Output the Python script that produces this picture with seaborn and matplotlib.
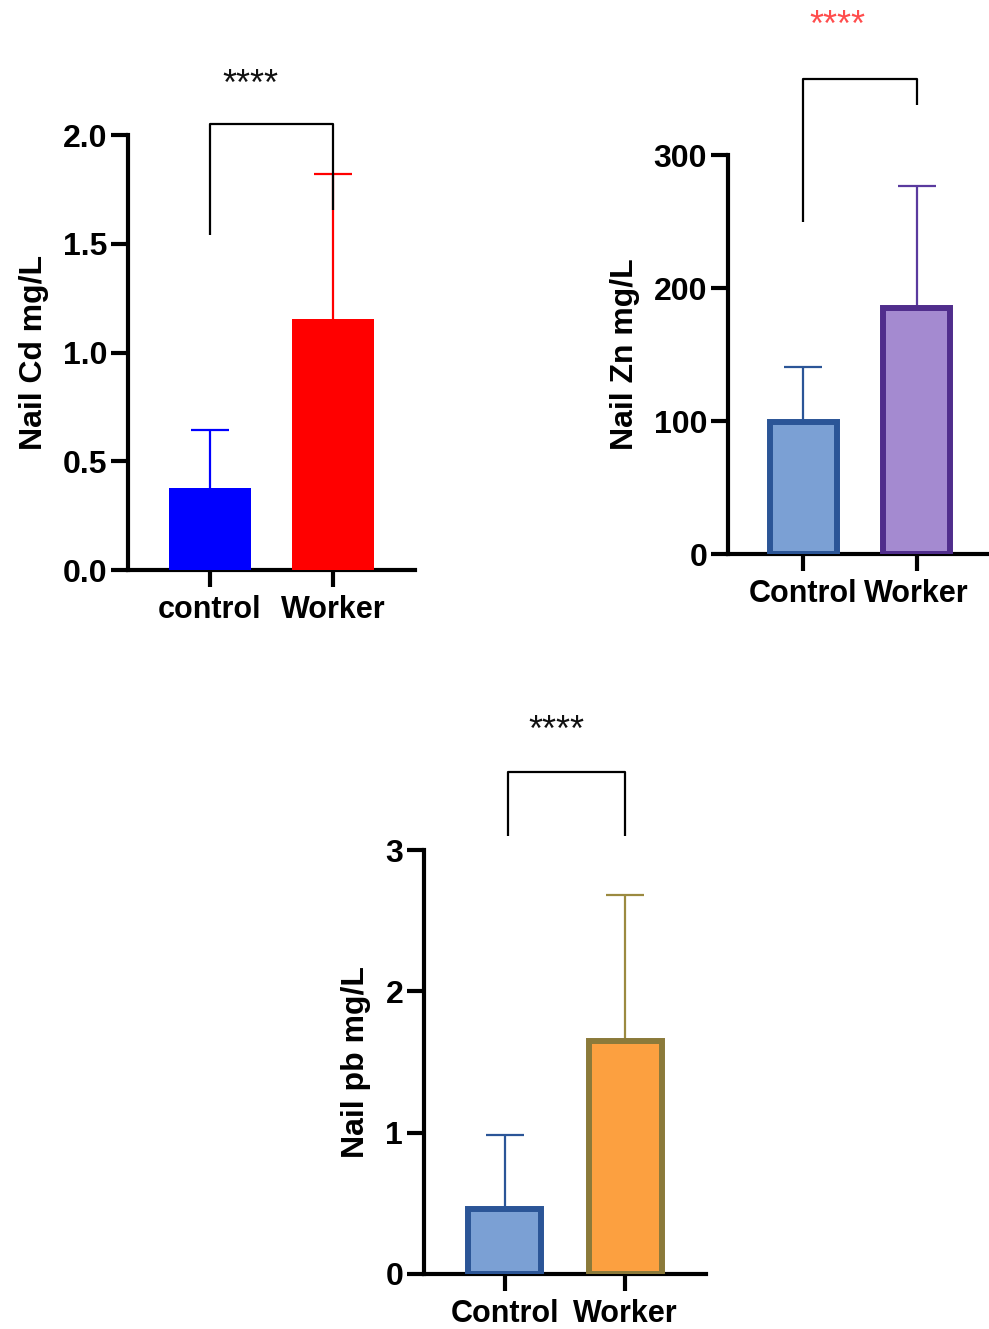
import pandas as pd
import matplotlib.pyplot as plt
import seaborn as sns

# --- Data (means and upper SD) ---
cd_groups = ['control', 'Worker']
cd_mean = [0.377, 1.155]
cd_sd = [0.265, 0.665]

zn_groups = ['Control', 'Worker']
zn_mean = [99, 185]
zn_sd = [42, 92]

pb_groups = ['Control', 'Worker']
pb_mean = [0.46, 1.65]
pb_sd = [0.52, 1.03]

sns.set_style('ticks')
plt.rcParams['font.family'] = ['Liberation Sans', 'DejaVu Sans']
plt.rcParams['font.weight'] = 'bold'
plt.rcParams['text.color'] = 'black'
plt.rcParams['axes.labelcolor'] = 'black'
plt.rcParams['xtick.color'] = 'black'
plt.rcParams['ytick.color'] = 'black'

fig = plt.figure(figsize=(9.89, 13.29), dpi=100)


def panel(rect, groups, means, sds, fills, edges, errcols, bar_w, edge_lw,
          ylim, yticks, ticklabels, ylabel, bracket, stars, star_color):
    ax = fig.add_axes(rect)
    df = pd.DataFrame({'group': groups, 'value': means})
    sns.barplot(data=df, x='group', y='value', hue='group', palette=fills,
                saturation=1, legend=False, errorbar=None, width=bar_w,
                ax=ax, zorder=3)
    for patch, ec in zip(ax.patches, edges):
        patch.set_edgecolor(ec)
        patch.set_linewidth(edge_lw)
    # one-sided (upper) SD bars, lower cap removed
    for i, (m, s, c) in enumerate(zip(means, sds, errcols)):
        _, caps, _ = ax.errorbar(i, m, yerr=[[0], [s]], fmt='none', ecolor=c,
                                 elinewidth=1.6, capsize=14, capthick=1.6,
                                 zorder=2)
        caps[0].remove()
    ax.set_xlim(-0.667, 1.667)
    ax.set_ylim(*ylim)
    ax.set_yticks(yticks)
    ax.set_yticklabels(ticklabels)
    ax.set_xlabel('')
    ax.set_ylabel(ylabel, fontsize=23, fontweight='bold', labelpad=10)
    sns.despine(ax=ax)
    for sp in ['left', 'bottom']:
        ax.spines[sp].set_linewidth(3)
        ax.spines[sp].set_color('black')
    ax.tick_params(axis='both', length=12, width=3, color='black',
                   labelcolor='black')
    ax.tick_params(axis='y', pad=3, labelsize=23)
    ax.tick_params(axis='x', pad=6, labelsize=22)
    for lab in ax.get_xticklabels() + ax.get_yticklabels():
        lab.set_fontweight('bold')

    # significance bracket
    (x0, x1, ytop, yl, yr) = bracket
    ax.plot([x0, x0, x1, x1], [yl, ytop, ytop, yr], color='black',
            lw=1.6, clip_on=False, solid_capstyle='butt')
    sx, sy = stars
    ax.text(sx, sy, '****', ha='center', va='center', fontsize=26,
            fontweight='normal', color=star_color, clip_on=False)
    return ax


# Nail Cd
panel([0.1294, 0.5711, 0.2902, 0.3273], cd_groups, cd_mean, cd_sd,
      ['#0000ff', '#ff0000'], ['#0000ff', '#ff0000'], ['#0000ff', '#ff0000'],
      0.667, 0, (0, 2.0), [0, 0.5, 1.0, 1.5, 2.0],
      ['0.0', '0.5', '1.0', '1.5', '2.0'], 'Nail Cd mg/L',
      (0, 1, 2.05, 1.54, 1.655), (0.33, 2.23), '#111111')

# Nail Zn
panel([0.7361, 0.5831, 0.2669, 0.3002], zn_groups, zn_mean, zn_sd,
      ['#7ba0d4', '#a48ad0'], ['#2b5597', '#502d8c'], ['#2b5597', '#5a3a9e'],
      0.59, 4.3, (0, 300), [0, 100, 200, 300],
      ['0', '100', '200', '300'], 'Nail Zn mg/L',
      (0, 1, 357, 250, 338), (0.3, 397), '#ff4d4d')

# Nail pb
panel([0.4287, 0.0414, 0.2851, 0.3190], pb_groups, pb_mean, pb_sd,
      ['#7ba0d4', '#fca040'], ['#2b5597', '#8b7a3a'], ['#2b5597', '#9b8a40'],
      0.6, 4.3, (0, 3), [0, 1, 2, 3],
      ['0', '1', '2', '3'], 'Nail pb mg/L',
      (0.03, 1.0, 3.55, 3.1, 3.1), (0.425, 3.84), '#111111')

fig.savefig('out.png', dpi=100)
